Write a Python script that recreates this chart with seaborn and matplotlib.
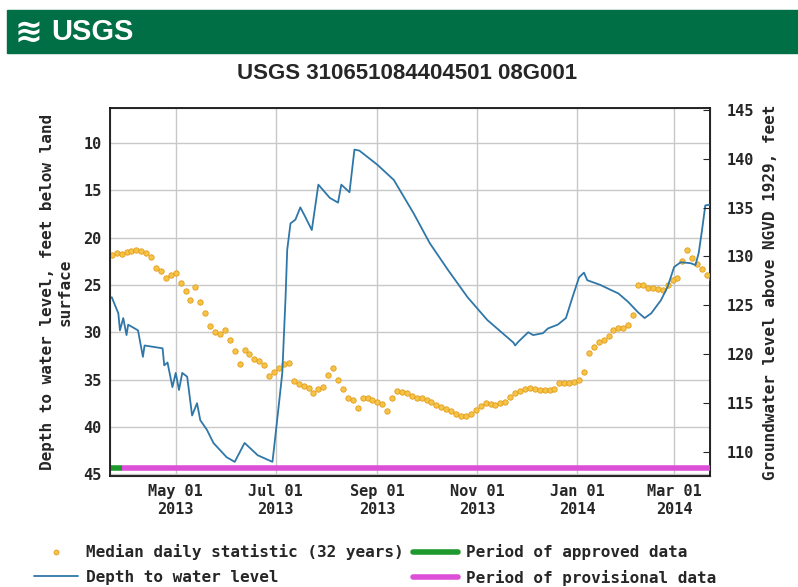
import numpy as np
import pandas as pd
import matplotlib.pyplot as plt
import matplotlib.dates as mdates
from matplotlib.lines import Line2D
import seaborn as sns

# median daily statistic (32 years), every 3 days from 2013-03-23
median_start = "2013-03-23"
median_depth = [
    21.8, 21.6, 21.7, 21.5, 21.4, 21.3, 21.4, 21.6, 22.0, 23.2,
    23.5, 24.3, 24.0, 23.7, 24.8, 25.6, 26.6, 25.2, 26.8, 28.0,
    29.3, 30.0, 30.2, 29.8, 30.8, 32.0, 33.4, 31.9, 32.3, 32.8,
    33.0, 33.5, 34.6, 34.2, 33.8, 33.4, 33.3, 35.2, 35.5, 35.7,
    35.9, 36.4, 36.0, 35.8, 34.5, 33.8, 35.0, 36.0, 36.9, 37.2,
    38.0, 37.0, 37.0, 37.2, 37.4, 37.6, 38.3, 37.0, 36.2, 36.3,
    36.4, 36.7, 36.9, 37.0, 37.2, 37.4, 37.7, 37.9, 38.1, 38.3,
    38.6, 38.9, 38.9, 38.6, 38.2, 37.8, 37.5, 37.6, 37.7, 37.5,
    37.4, 36.8, 36.4, 36.2, 36.0, 35.9, 36.0, 36.1, 36.1, 36.1,
    36.0, 35.4, 35.4, 35.4, 35.3, 35.0, 34.2, 32.2, 31.6, 31.0,
    30.8, 30.4, 29.8, 29.5, 29.5, 29.2, 28.2, 25.0, 25.0, 25.3,
    25.3, 25.4, 25.5, 25.0, 24.5, 24.3, 22.5, 21.3, 22.2, 22.8,
    23.3, 23.9, 24.4,
]

# depth to water level
depth_dates = [
    "2013-03-23", "2013-03-27", "2013-03-28", "2013-03-30", "2013-04-01",
    "2013-04-02", "2013-04-08", "2013-04-11", "2013-04-12", "2013-04-23",
    "2013-04-24", "2013-04-26", "2013-04-29", "2013-05-01", "2013-05-03",
    "2013-05-05", "2013-05-08", "2013-05-11", "2013-05-14", "2013-05-16",
    "2013-05-20", "2013-05-24", "2013-06-01", "2013-06-06", "2013-06-12",
    "2013-06-20", "2013-06-29", "2013-06-30", "2013-07-03", "2013-07-05",
    "2013-07-07", "2013-07-08", "2013-07-10", "2013-07-13", "2013-07-16",
    "2013-07-19", "2013-07-23", "2013-07-27", "2013-08-03", "2013-08-08",
    "2013-08-10", "2013-08-15", "2013-08-18", "2013-08-21", "2013-09-01",
    "2013-09-11", "2013-09-23", "2013-10-03", "2013-10-14", "2013-10-26",
    "2013-11-07", "2013-11-23", "2013-11-24", "2013-11-26", "2013-12-02",
    "2013-12-05", "2013-12-11", "2013-12-14", "2013-12-20", "2013-12-25",
    "2013-12-29", "2014-01-02", "2014-01-05", "2014-01-07", "2014-01-15",
    "2014-01-21", "2014-01-26", "2014-02-01", "2014-02-07", "2014-02-11",
    "2014-02-15", "2014-02-21", "2014-02-25", "2014-03-01", "2014-03-05",
    "2014-03-11", "2014-03-14", "2014-03-16", "2014-03-18", "2014-03-20",
    "2014-03-23",
]
depth_values = [
    26.3, 28.0, 29.8, 28.5, 30.3,
    29.2, 29.8, 32.6, 31.4, 31.7,
    33.5, 33.2, 35.8, 34.3, 36.1,
    34.3, 34.7, 38.8, 37.5, 39.3,
    40.3, 41.7, 43.2, 43.7, 41.7,
    43.0, 43.7, 42.2, 37.5, 34.3,
    26.3, 21.3, 18.5, 18.1, 16.8,
    17.8, 19.2, 14.4, 15.8, 16.3,
    14.4, 15.2, 10.7, 10.8, 12.3,
    13.9, 17.4, 20.6, 23.4, 26.3,
    28.7, 31.1, 31.4, 31.0, 30.0,
    30.3, 30.1, 29.6, 29.2, 28.5,
    26.3, 24.2, 23.7, 24.5, 25.0,
    25.5, 25.9, 26.8, 27.9, 28.5,
    28.0, 26.6, 25.2, 23.1, 22.6,
    22.7, 22.9, 21.6, 19.2, 16.6,
    16.5,
]

approved_period = ["2013-03-22", "2013-03-29"]
provisional_period = ["2013-03-29", "2014-03-24"]
period_depth = 44.35

left_ticks = [10, 15, 20, 25, 30, 35, 40, 45]
right_ticks = [110, 115, 120, 125, 130, 135, 140, 145]
x_ticks = ["2013-05-01", "2013-07-01", "2013-09-01", "2013-11-01", "2014-01-01", "2014-03-01"]

blue = "#2f77a8"
orange_face = "#f6c445"
orange_edge = "#e39b1c"
green = "#1e9a2c"
magenta = "#dd4fd8"
usgs_green = "#006f45"
mono = "DejaVu Sans Mono"
sans = ["Liberation Sans", "DejaVu Sans"]

med = pd.DataFrame({
    "date": pd.date_range(median_start, periods=len(median_depth), freq="3D"),
    "depth": median_depth,
})
dep = pd.DataFrame({"date": pd.to_datetime(depth_dates), "depth": depth_values})

sns.set_style("white")
fig = plt.figure(figsize=(7.98, 5.87), dpi=100)
ax = fig.add_axes([0.138, 0.189, 0.752, 0.627])

# header band
fig.patches.append(plt.Rectangle((0.009, 0.910), 0.991, 0.073, transform=fig.transFigure,
                                 color=usgs_green, zorder=0))
fig.text(0.018, 0.946, "\u224b", color="white", fontsize=24, fontweight="bold",
         va="center", ha="left", family="DejaVu Sans")
fig.text(0.064, 0.946, "USGS", color="white", fontsize=21, fontweight="bold",
         va="center", ha="left", family=sans)
fig.text(0.51, 0.874, "USGS 310651084404501 08G001", fontsize=16, fontweight="bold",
         va="center", ha="center", family=sans)

sns.scatterplot(data=med, x="date", y="depth", ax=ax, marker="o", s=15,
                color=orange_face, edgecolor=orange_edge, linewidth=0.6, zorder=3)
sns.lineplot(data=dep, x="date", y="depth", ax=ax, color=blue, lw=1.3,
             estimator=None, sort=False, zorder=4)
ax.plot(pd.to_datetime(provisional_period), [period_depth] * 2, color=magenta, lw=4,
        solid_capstyle="butt", zorder=5)
ax.plot(pd.to_datetime(approved_period), [period_depth] * 2, color=green, lw=4,
        solid_capstyle="butt", zorder=6)

ax.set_xlim(pd.Timestamp("2013-03-22"), pd.Timestamp("2014-03-23"))
ax.set_ylim(45.2, 6.3)
ax.set_yticks(left_ticks)
ax.set_xticks(pd.to_datetime(x_ticks))
ax.xaxis.set_major_formatter(mdates.DateFormatter("%b %d\n%Y"))
ax.grid(True, color="#c8c8c8", lw=1)
ax.tick_params(length=0, labelsize=11, pad=6)
for lab in ax.get_xticklabels() + ax.get_yticklabels():
    lab.set_family(mono)
    lab.set_fontweight("bold")
ax.set_xlabel("")
ax.set_ylabel("Depth to water level, feet below land\nsurface", family=mono,
              fontweight="bold", fontsize=11.5, labelpad=8)
for sp in ax.spines.values():
    sp.set_color("black")
    sp.set_linewidth(1.2)

ax2 = ax.twinx()
ax2.set_ylim(107.5, 145.2)
ax2.set_yticks(right_ticks)
ax2.tick_params(direction="in", length=5, labelsize=11, pad=12)
for lab in ax2.get_yticklabels():
    lab.set_family(mono)
    lab.set_fontweight("bold")
ax2.set_ylabel("Groundwater level above NGVD 1929, feet", family=mono,
               fontweight="bold", fontsize=11.5, labelpad=6)
ax2.grid(False)

handles = [
    Line2D([], [], ls="", marker="o", ms=3.5, mfc=orange_face, mec=orange_edge, mew=0.6),
    Line2D([], [], color=blue, lw=1.3),
    Line2D([], [], color=green, lw=4),
    Line2D([], [], color=magenta, lw=4),
]
labels = ["Median daily statistic (32 years)", "Depth to water level",
          "Period of approved data", "Period of provisional data"]
fig.legend(handles, labels, ncol=2, loc="upper left", bbox_to_anchor=(0.042, 0.073),
           frameon=False, prop={"family": mono, "weight": "bold", "size": 11.5},
           handlelength=2.8, handletextpad=0.5, columnspacing=0.6, labelspacing=0.6,
           borderaxespad=0, borderpad=0)

fig.savefig("out.png", dpi=100)
